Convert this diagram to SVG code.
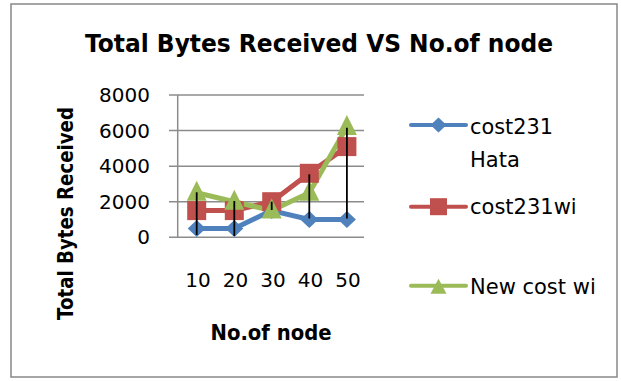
<svg xmlns="http://www.w3.org/2000/svg" width="621" height="381" viewBox="0 0 621 381">
<style>
text{font-family:"DejaVu Sans","Liberation Sans",sans-serif;fill:#000}
.b{font-weight:bold}
.tick{font-size:20px}
.leg{font-size:21px}
.grid{stroke:#8c8c8c;stroke-width:1.5;fill:none}
.ser{fill:none;stroke-width:5;stroke-linejoin:round;stroke-linecap:round}
.hl{stroke:#000;stroke-width:1.8}
</style>
<defs>
<path id="dia" d="M0,-8.5L9,0L0,8.5L-9,0Z" fill="#4F81BD"/>
<rect id="sq" x="-9.5" y="-9.5" width="19" height="19" fill="#C0504D"/>
<path id="tri" d="M0,-12L10,8L-10,8Z" fill="#9BBB59"/>
<path id="diaS" d="M0,-7.5L8,0L0,7.5L-8,0Z" fill="#4F81BD"/>
<rect id="sqS" x="-8.5" y="-8.5" width="17" height="17" fill="#C0504D"/>
<path id="triS" d="M0,-7L8,8L-8,8Z" fill="#9BBB59"/>
</defs>
<rect x="11" y="4" width="606" height="373" fill="#fff" stroke="#888" stroke-width="1.5"/>
<g id="title"><text class="b" x="319" y="52" font-size="25" text-anchor="middle" textLength="468" lengthAdjust="spacingAndGlyphs">Total Bytes Received VS No.of node</text></g>
<g id="axes">
<line class="grid" x1="169" y1="95" x2="364" y2="95"/>
<line class="grid" x1="169" y1="130.6" x2="364" y2="130.6"/>
<line class="grid" x1="169" y1="166.2" x2="364" y2="166.2"/>
<line class="grid" x1="169" y1="201.7" x2="364" y2="201.7"/>
<line class="grid" x1="169" y1="237.3" x2="364" y2="237.3"/>
<line class="grid" x1="177.7" y1="95" x2="177.7" y2="237.3"/>
<g class="tick" text-anchor="end">
<text x="150" y="102">8000</text>
<text x="150" y="137.6">6000</text>
<text x="150" y="173.2">4000</text>
<text x="150" y="208.7">2000</text>
<text x="150" y="244.3">0</text>
</g>
<g class="tick" text-anchor="middle">
<text x="198" y="287">10</text>
<text x="235.5" y="287">20</text>
<text x="273" y="287">30</text>
<text x="310.5" y="287">40</text>
<text x="348" y="287">50</text>
</g>
<text class="b" font-size="21" x="271" y="340" text-anchor="middle" textLength="121" lengthAdjust="spacingAndGlyphs">No.of node</text>
<text class="b" font-size="21" transform="translate(73,213.5) rotate(-90)" text-anchor="middle" textLength="213" lengthAdjust="spacingAndGlyphs">Total Bytes Received</text>
</g>
<g id="connectors">
<polyline class="ser" stroke="#4F81BD" points="196.7,228.4 234.3,228.4 271.7,210.6 309.3,219.5 346.9,219.5"/>
<polyline class="ser" stroke="#C0504D" points="196.7,210.6 234.3,210.6 271.7,201.7 309.3,173.3 346.9,146.6"/>
<polyline class="ser" stroke="#9BBB59" points="196.7,192.8 234.3,201.7 271.7,210.6 309.3,192.8 346.9,127"/>
</g>
<g id="series-cost231-hata">
<use href="#dia" x="196.7" y="228.4"/><use href="#dia" x="234.3" y="228.4"/><use href="#dia" x="271.7" y="210.6"/><use href="#dia" x="309.3" y="219.5"/><use href="#dia" x="346.9" y="219.5"/>
</g>
<g id="series-cost231wi">
<use href="#sq" x="196.7" y="210.6"/><use href="#sq" x="234.3" y="210.6"/><use href="#sq" x="271.7" y="201.7"/><use href="#sq" x="309.3" y="173.3"/><use href="#sq" x="346.9" y="146.6"/>
</g>
<g id="series-new-cost-wi">
<use href="#tri" x="196.7" y="192.8"/><use href="#tri" x="234.3" y="201.7"/><use href="#tri" x="271.7" y="210.6"/><use href="#tri" x="309.3" y="192.8"/><use href="#tri" x="346.9" y="127"/>
</g>
<g id="hilo">
<line class="hl" x1="196.7" y1="192.3" x2="196.7" y2="235"/>
<line class="hl" x1="234.3" y1="201" x2="234.3" y2="236"/>
<line class="hl" x1="271.7" y1="201.7" x2="271.7" y2="210"/>
<line class="hl" x1="309.3" y1="174.3" x2="309.3" y2="218.5"/>
<line class="hl" x1="346.9" y1="127.7" x2="346.9" y2="218.5"/>
</g>
<g id="legend">
<g id="leg-blue"><line x1="411" y1="125" x2="466" y2="125" stroke="#4F81BD" stroke-width="4" stroke-linecap="round"/><use href="#diaS" x="438.5" y="125"/><text class="leg" x="470" y="134" textLength="83" lengthAdjust="spacingAndGlyphs">cost231</text><text class="leg" x="470" y="166.7">Hata</text></g>
<g id="leg-red"><line x1="411" y1="206.7" x2="466" y2="206.7" stroke="#C0504D" stroke-width="4" stroke-linecap="round"/><use href="#sqS" x="438.5" y="206.7"/><text class="leg" x="470" y="214.3">cost231wi</text></g>
<g id="leg-green"><line x1="411" y1="285.7" x2="466" y2="285.7" stroke="#9BBB59" stroke-width="4" stroke-linecap="round"/><use href="#triS" x="438.5" y="285.7"/><text class="leg" x="470" y="294">New cost wi</text></g>
</g>
</svg>
